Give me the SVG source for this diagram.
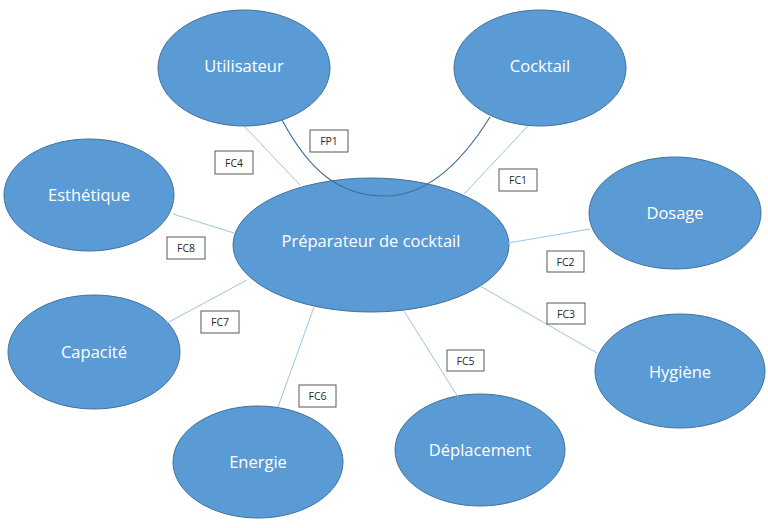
<svg xmlns="http://www.w3.org/2000/svg" width="768" height="528" viewBox="0 0 768 528">
<style>
.n{fill:#5B9BD5;stroke:#41719C;stroke-width:1}
.t{fill:#fff;font-family:"Open Sans","Liberation Sans",sans-serif;font-size:16.5px;text-anchor:middle;dominant-baseline:central}
.c{stroke:#9DC3E6;stroke-width:1;fill:none}
.fp{stroke:#41719C;stroke-width:1.2;fill:none}
.b{fill:#fff;stroke:#595959;stroke-width:1}
.l{fill:#262626;font-family:"Open Sans","Liberation Sans",sans-serif;font-size:10.5px;text-anchor:middle;dominant-baseline:central}
</style>
<rect width="768" height="528" fill="#fff"/>
<g id="nodes">
<g id="utilisateur"><ellipse class="n" cx="244" cy="68" rx="86" ry="58"/><text class="t" x="244" y="65">Utilisateur</text></g>
<g id="cocktail"><ellipse class="n" cx="540" cy="68" rx="86" ry="58"/><text class="t" x="540" y="65">Cocktail</text></g>
<g id="esthetique"><ellipse class="n" cx="89" cy="195" rx="85" ry="56"/><text class="t" x="89" y="194">Esthétique</text></g>
<g id="dosage"><ellipse class="n" cx="675" cy="213" rx="86" ry="56"/><text class="t" x="675" y="212">Dosage</text></g>
<g id="capacite"><ellipse class="n" cx="94" cy="352" rx="86" ry="57"/><text class="t" x="94" y="351">Capacité</text></g>
<g id="hygiene"><ellipse class="n" cx="680" cy="371" rx="85" ry="57"/><text class="t" x="680" y="371">Hygiène</text></g>
<g id="energie"><ellipse class="n" cx="258" cy="462" rx="85" ry="56"/><text class="t" x="258" y="461">Energie</text></g>
<g id="deplacement"><ellipse class="n" cx="480" cy="450" rx="85" ry="56"/><text class="t" x="480" y="449">Déplacement</text></g>
<g id="preparateur"><ellipse class="n" cx="371" cy="245" rx="138" ry="67"/><text class="t" x="371" y="240">Préparateur de cocktail</text></g>
</g>
<g id="connectors">
<line class="c" x1="245" y1="127" x2="300" y2="185"/>
<line class="c" x1="528" y1="126" x2="464" y2="194"/>
<line class="c" x1="173" y1="214" x2="234" y2="233"/>
<line class="c" x1="508" y1="243" x2="590" y2="229"/>
<line class="c" x1="480" y1="286" x2="597" y2="353"/>
<line class="c" x1="167" y1="323" x2="247" y2="280"/>
<line class="c" x1="314" y1="307" x2="278" y2="407"/>
<line class="c" x1="404" y1="311" x2="458" y2="397"/>
<path class="fp" d="M282,120 C310,172 340,196 385,196 C428,196 462,162 490,117"/>
</g>
<g id="labels">
<g id="fp1"><rect class="b" x="310" y="130" width="38" height="22"/><text class="l" x="329" y="141">FP1</text></g>
<g id="fc4"><rect class="b" x="215" y="151" width="38" height="23"/><text class="l" x="234" y="162.5">FC4</text></g>
<g id="fc1"><rect class="b" x="499" y="169" width="38" height="22"/><text class="l" x="518" y="180">FC1</text></g>
<g id="fc8"><rect class="b" x="167" y="237" width="38" height="22"/><text class="l" x="186" y="248">FC8</text></g>
<g id="fc2"><rect class="b" x="547" y="251" width="37" height="21"/><text class="l" x="565.5" y="261.5">FC2</text></g>
<g id="fc3"><rect class="b" x="547" y="303" width="38" height="21"/><text class="l" x="566" y="313.5">FC3</text></g>
<g id="fc7"><rect class="b" x="201" y="311" width="38" height="22"/><text class="l" x="220" y="322">FC7</text></g>
<g id="fc5"><rect class="b" x="447" y="350" width="37" height="21"/><text class="l" x="465.5" y="360.5">FC5</text></g>
<g id="fc6"><rect class="b" x="299" y="385" width="37" height="22"/><text class="l" x="317.5" y="396">FC6</text></g>
</g>
</svg>
